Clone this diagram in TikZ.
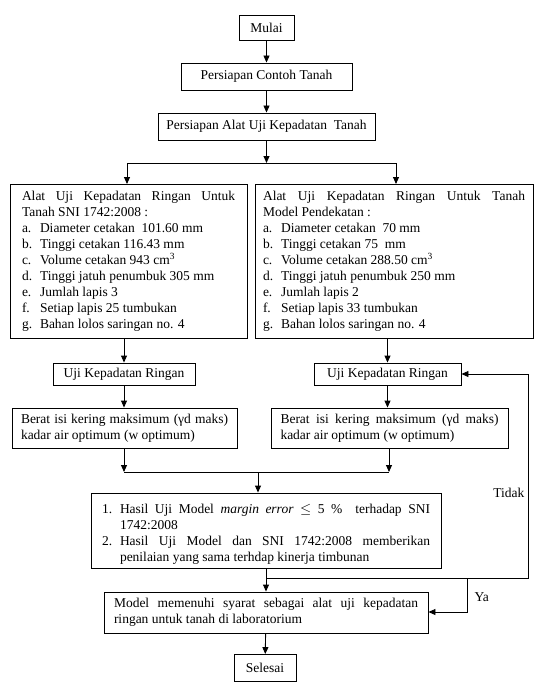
\documentclass[tikz,border=0pt]{standalone}
\usepackage{fontspec}
\setmainfont{Liberation Serif}
\usepackage{enumitem}
\usetikzlibrary{arrows.meta}
\setlist{nosep,leftmargin=18pt,labelwidth=14pt,labelsep=4pt,align=left}
\hyphenpenalty=10000
\exhyphenpenalty=10000

\begin{document}
\begin{tikzpicture}[x=1pt,y=-1pt,font=\fontsize{13.5}{16}\selectfont,
	kotak/.style={draw,line width=0.9pt,inner sep=0pt},
	isi/.style={kotak,align=justify,text width=#1},
	panah/.style={line width=0.9pt,-{Triangle[length=7pt,width=6pt]}},
	garis/.style={line width=0.9pt}]
	\useasboundingbox (0,0) rectangle (534,682);
	\node (mulai) at (266.5,27.5) [kotak,minimum width=55pt,minimum height=25pt]{Mulai};
	\node (contoh) at (266.5,76.5) [kotak,minimum width=171pt,minimum height=27pt]{Persiapan Contoh Tanah};
	\node (alat) at (266.5,126.5) [kotak,minimum width=217pt,minimum height=27pt]{Persiapan Alat Uji Kepadatan\ \ Tanah};
	\node (sni) at (128.5,261) [isi=213pt,inner xsep=12pt,minimum height=154pt]{Alat Uji Kepadatan Ringan Untuk\linebreak Tanah SNI 1742:2008 :
		\begin{enumerate}[label=\alph*.]
			\item Diameter cetakan\ \ 101.60 mm
			\item Tinggi cetakan 116.43 mm
			\item Volume cetakan 943 cm\textsuperscript{3}
			\item Tinggi jatuh penumbuk 305 mm
			\item Jumlah lapis 3
			\item Setiap lapis 25 tumbukan
			\item Bahan lolos saringan no. 4
		\end{enumerate}};
	\node (model) at (394,261) [isi=262pt,inner xsep=8pt,minimum height=154pt]{Alat Uji Kepadatan Ringan Untuk Tanah\linebreak Model Pendekatan :
		\begin{enumerate}[label=\alph*.]
			\item Diameter cetakan\ \ 70 mm
			\item Tinggi cetakan 75\ \ mm
			\item Volume cetakan 288.50 cm\textsuperscript{3}
			\item Tinggi jatuh penumbuk 250 mm
			\item Jumlah lapis 2
			\item Setiap lapis 33 tumbukan
			\item Bahan lolos saringan no. 4
		\end{enumerate}};
	\node (ujil) at (124,374) [kotak,minimum width=142pt,minimum height=22pt]{Uji Kepadatan Ringan};
	\node (ujir) at (387.5,374) [kotak,minimum width=147pt,minimum height=22pt]{Uji Kepadatan Ringan};
	\node (beratl) at (124.5,428) [isi=207pt,inner xsep=9pt,minimum height=40pt]{Berat isi kering maksimum (γd maks)\linebreak kadar air optimum (w optimum)};
	\node (beratr) at (389.5,428) [isi=218pt,inner xsep=9.5pt,minimum height=40pt]{Berat isi kering maksimum (γd maks)\linebreak kadar air optimum (w optimum)};
	\node (hasil) at (266,530.5) [isi=328pt,inner xsep=11pt,minimum height=75pt]{%
		\begin{enumerate}[label=\arabic*.]
			\item Hasil Uji Model \textit{margin error} $\leq$ 5 \%\ \ terhadap SNI\linebreak 1742:2008
			\item Hasil Uji Model dan SNI 1742:2008 memberikan\linebreak penilaian yang sama terhdap kinerja timbunan
		\end{enumerate}};
	\node (syarat) at (266,612.5) [isi=304pt,inner xsep=10pt,minimum height=41pt]{Model memenuhi syarat sebagai alat uji kepadatan\linebreak ringan untuk tanah di laboratorium};
	\node (selesai) at (265,668) [kotak,minimum width=62pt,minimum height=27pt]{Selesai};
	% titik bantu
	\coordinate (cabang) at (266.5,163);
	\coordinate (gabung) at (258,472);
	\coordinate (bawah) at (266,578);
	\draw[panah] (mulai) -- (contoh);
	\draw[panah] (contoh) -- (alat);
	\draw[panah] (alat) -- (cabang);
	\draw[garis] (127,163) -- (396,163);
	\draw[panah] (127,163) -- (127,184);
	\draw[panah] (396,163) -- (396,184);
	\draw[panah] (sni.south -| ujil) -- (ujil);
	\draw[panah] (model.south -| ujir) -- (ujir);
	\draw[panah] (ujil) -- (beratl.north -| ujil);
	\draw[panah] (ujir) -- (beratr.north -| ujir);
	\draw[panah] (beratl.south -| 124,0) -- (124,472);
	\draw[panah] (beratr.south -| 389,0) -- (389,472);
	\draw[garis] (124,472) -- (389,472);
	\draw[panah] (gabung) -- (gabung |- hasil.north);
	\draw[panah] (hasil.south -| bawah) -- (syarat.north -| bawah);
	\draw[panah] (bawah) -- (528,578) -- (528,374) -- (ujir.east);
	\draw[panah] (467,578) -- (467,612) -- (syarat.east |- 0,612);
	\draw[panah] (syarat) -- (selesai);
	\node (tidak) at (528,493) [anchor=east]{Tidak};
	\node (ya) at (471,597) [anchor=west]{Ya};
\end{tikzpicture}
\end{document}
